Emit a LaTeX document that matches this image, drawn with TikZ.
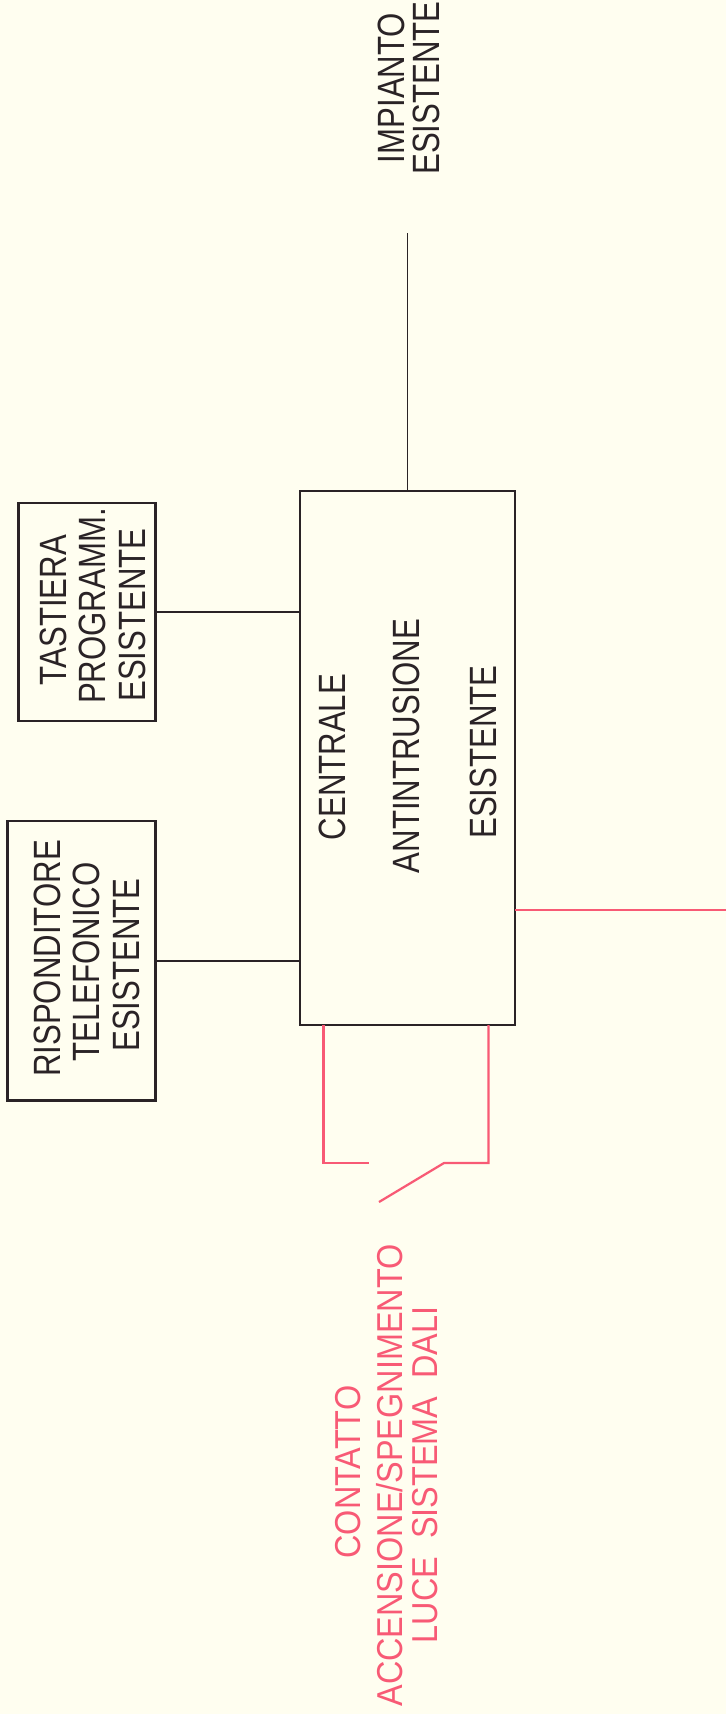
\documentclass[tikz,border=0pt]{standalone}
\usepackage{fontspec}
\usepackage{xcolor}
\newfontfamily\boxfont[FakeStretch=0.82]{Liberation Sans}
\newfontfamily\redfont[FakeStretch=0.9]{Liberation Sans}
\definecolor{paper}{HTML}{FFFEF0}
\definecolor{ink}{HTML}{2A2326}
\definecolor{redwire}{HTML}{F85A75}
\tikzstyle{box}=[fill=paper, draw=ink, shape=rectangle, line width=2.4pt, inner sep=0pt]
\tikzstyle{black text}=[text=ink, rotate=90, inner sep=0pt, text height=27pt, text depth=0pt, font=\boxfont\fontsize{38}{40}\selectfont]
\tikzstyle{red text}=[text=redwire, rotate=90, inner sep=0pt, text height=26pt, text depth=0pt, font=\redfont\fontsize{36}{38}\selectfont]
\tikzstyle{black edge}=[-, draw=ink, line width=1.7pt]
\tikzstyle{red edge}=[-, draw=redwire, line width=2.2pt]
\pgfdeclarelayer{nodelayer}
\pgfdeclarelayer{edgelayer}
\pgfsetlayers{main,nodelayer,edgelayer}
\begin{document}
\begin{tikzpicture}[x=1pt, y=-1pt]
	\fill [paper] (0, 0) rectangle (726, 1714);
	\useasboundingbox (0, 0) rectangle (726, 1714);
	\begin{pgfonlayer}{nodelayer}
		\node [style=box, minimum width=215pt, minimum height=534pt] (0) at (407.5, 758) {};
		\node [style=box, minimum width=137pt, minimum height=218pt] (1) at (87, 612) {};
		\node [style=box, minimum width=148pt, minimum height=279.5pt] (2) at (81.5, 960.7) {};
		\node [style=black text] (3) at (332, 757) {CENTRALE};
		\node [style=black text] (4) at (406, 746) {ANTINTRUSIONE};
		\node [style=black text] (5) at (483, 752) {ESISTENTE};
		\node [style=black text] (6) at (53, 610) {TASTIERA};
		\node [style=black text] (7) at (92, 606) {PROGRAMM.};
		\node [style=black text] (8) at (132, 615) {ESISTENTE};
		\node [style=black text] (9) at (47, 958.5) {RISPONDITORE};
		\node [style=black text] (10) at (86, 962) {TELEFONICO};
		\node [style=black text] (11) at (126, 965) {ESISTENTE};
		\node [style=black text] (12) at (391, 88) {IMPIANTO};
		\node [style=black text] (13) at (426, 88) {ESISTENTE};
		\node [style=red text] (14) at (347, 1472) {CONTATTO};
		\node [style=red text] (15) at (389.5, 1475.5) {ACCENSIONE/SPEGNIMENTO};
		\node [style=red text] (16) at (424.5, 1475) {LUCE\ \ SISTEMA\ \ DALI};
		\coordinate (17) at (407.5, 233);
		\coordinate (18) at (726, 910);
		\coordinate (19) at (515, 910);
		\coordinate (20) at (323.5, 1025);
		\coordinate (21) at (323.5, 1163);
		\coordinate (22) at (369, 1163);
		\coordinate (23) at (488.5, 1025);
		\coordinate (24) at (488.5, 1163);
		\coordinate (25) at (444, 1163);
		\coordinate (26) at (379, 1202);
	\end{pgfonlayer}
	\begin{pgfonlayer}{edgelayer}
		\draw [style=black edge] (17) to (0.north);
		\draw [style=black edge] (1.east) to (1.east -| 0.west);
		\draw [style=black edge] (2.east) to (2.east -| 0.west);
		\draw [style=red edge] (19) to (18);
		\draw [style=red edge] (20) to (21) to (22);
		\draw [style=red edge] (23) to (24) to (25) to (26);
	\end{pgfonlayer}
\end{tikzpicture}
\end{document}
